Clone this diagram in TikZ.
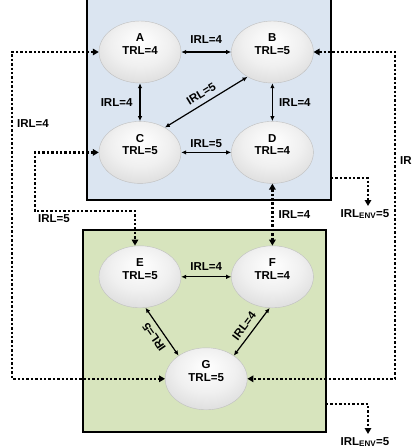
\documentclass[tikz,border=0pt]{standalone}
\usepackage{fontspec}
\setmainfont{Liberation Sans}
\usetikzlibrary{arrows.meta,positioning,calc,shapes.geometric}
\pgfdeclareradialshading{trlball}{\pgfpoint{0bp}{10bp}}{color(0bp)=(white); color(18bp)=(gray!12); color(34bp)=(gray!30); color(47bp)=(gray!48); color(56bp)=(gray!65)}
\definecolor{subblue}{RGB}{219,229,241}
\definecolor{subgreen}{RGB}{215,228,189}

\begin{document}
\begin{tikzpicture}[x=1pt, y=1pt, node distance=38pt and 50pt,
    font=\fontsize{11.5}{12.5}\selectfont\bfseries,
    every node/.style={align=center, inner sep=2pt},
    comp/.style={ellipse, shading=trlball, draw=gray!50, thin,
        minimum width=82pt, minimum height=62pt, inner sep=0pt},
    irl/.style={{Latex[length=5pt,width=4.5pt]}-{Latex[length=5pt,width=4.5pt]},
        line width=1.2pt},
    irldot/.style={{Triangle[length=6pt,width=6.5pt]}-{Triangle[length=6pt,width=6.5pt]},
        line width=2.4pt, dotted},
    envdot/.style={-{Triangle[length=6pt,width=6.5pt]}, line width=2.4pt, dotted}]
    \useasboundingbox (0,0) rectangle (415,-448);

    % subsystem boxes
    \draw[line width=1.4pt, fill=subblue] (87,8) rectangle (331,-200);
    \draw[line width=1.4pt, fill=subgreen] (83,-230) rectangle (326,-432);

    \node[comp] (A) at (140,-52) {A\\TRL=4\\[3pt]\mbox{}};
    \node[comp, right=of A] (B) {B\\TRL=5\\[3pt]\mbox{}};
    \node[comp, below=of A] (C) {C\\TRL=5\\[3pt]\mbox{}};
    \node[comp, below=of B] (D) {D\\TRL=4\\[3pt]\mbox{}};
    \node[comp, below=62pt of C] (E) {E\\TRL=5\\[3pt]\mbox{}};
    \node[comp, below=62pt of D] (F) {F\\TRL=4\\[3pt]\mbox{}};
    \node[comp] (G) at ($(E)!0.5!(F)+(0,-102)$) {G\\TRL=5\\[3pt]\mbox{}};

    \coordinate (farL) at (12,0);
    \coordinate (farR) at (395,0);
    \coordinate (ce) at (35,-211);
    \coordinate (dOut) at (331,-178);
    \coordinate (dEnv) at (368,-206);
    \coordinate (gOut) at (326,-404);
    \coordinate (gEnv) at (368,-434);

    % integration inside the subsystems
    \draw[irl] (A) -- node[above=6pt] {IRL=4} (B);
    \draw[irl] (A) -- node[left=5pt] {IRL=4} (C);
    \draw[irl] (B) -- node[right=4pt] {IRL=4} (D);
    \draw[irl] (C) -- node[above=2pt] {IRL=5} (D);
    \draw[irl] (C.45) -- node[sloped, above=3pt] {IRL=5} (B.225);
    \draw[irl] (E) -- node[above=4pt] {IRL=4} (F);
    \draw[irl] (G.140) -- node[sloped, allow upside down, above=3pt] {IRL=5} (E.-80);
    \draw[irl] (G.40) -- node[sloped, above=3pt] {IRL=4} (F.-95);

    % integration between the subsystems
    \draw[irldot] (A.west) -- (A.west -| farL)
        |- node[pos=0.11, right=2pt] {IRL=4} (G.west);
    \draw[irldot] (C.west) -| (ce)
        -| node[pos=0, below right] {IRL=5} ([xshift=-5pt]E.north);
    \draw[irldot] (D) -- node[right=3pt] {IRL=4} (F);
    \draw[irldot] (B.east) -- (B.east -| farR)
        |- node[pos=0.166, right=2pt] {IR} (G.east);

    % environment
    \draw[envdot] (dOut) -| node[pos=1, below, xshift=-3pt] {IRL\textsubscript{ENV}=5} (dEnv);
    \draw[envdot] (gOut) -| node[pos=1, below, xshift=-3pt] {IRL\textsubscript{ENV}=5} (gEnv);
\end{tikzpicture}
\end{document}
